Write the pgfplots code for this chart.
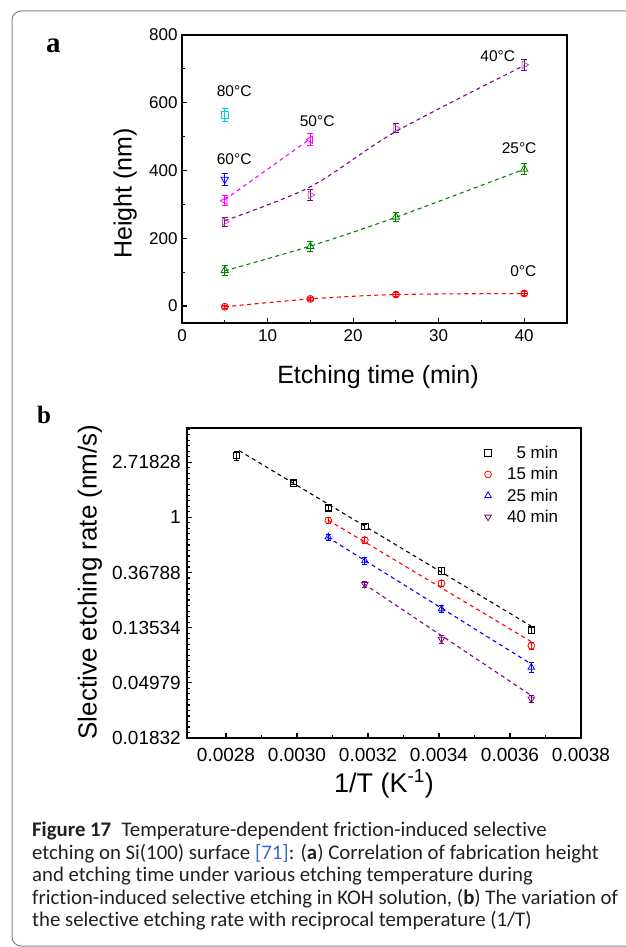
\documentclass[border=0pt]{standalone}
\usepackage{pgfplots}
\pgfplotsset{compat=1.18}
\usepackage{fontspec}
\setmainfont{Liberation Sans}
\newfontfamily\serifbf{Liberation Serif}
\newfontfamily\capfont[Ligatures=NoCommon]{Carlito}
\newcommand\tfa{\fontsize{17}{17}\selectfont}
\definecolor{cZero}{RGB}{255,0,0}
\definecolor{cTwentyFive}{RGB}{0,128,0}
\definecolor{cForty}{RGB}{128,0,128}
\definecolor{cFortyM}{RGB}{180,90,190}
\definecolor{cFifty}{RGB}{255,0,255}
\definecolor{cSixty}{RGB}{0,0,255}
\definecolor{cEighty}{RGB}{0,210,220}
\definecolor{capcol}{RGB}{35,31,32}
\definecolor{refblue}{RGB}{60,100,200}
\definecolor{frame}{RGB}{130,130,130}
\pgfplotsset{
  fitline/.style={dash pattern=on 4pt off 3.5pt, line width=1.1pt, forget plot},
  ebar/.style={error bars/.cd, y dir=both, y explicit,
     error bar style={line width=0.9pt},
     error mark options={rotate=90, mark size=3pt, line width=0.9pt}},
  ebarb/.style={error bars/.cd, y dir=both, y explicit,
     error bar style={line width=0.9pt},
     error mark options={rotate=90, mark size=2.5pt, line width=0.9pt}},
}
\begin{document}
\begin{tikzpicture}
\useasboundingbox (0pt,0pt) rectangle (625pt,-947pt);
\draw[frame, line width=1pt, rounded corners=9pt] (12pt,-11pt) rectangle (720pt,-946pt);
% panel labels
\node[anchor=base west, inner sep=0pt, font=\serifbf\bfseries\fontsize{29}{29}\selectfont] at (46pt,-53pt) {a};
\node[anchor=base west, inner sep=0pt, font=\serifbf\bfseries\fontsize{25}{25}\selectfont] at (37pt,-423pt) {b};

% ---------------- panel a ----------------
\begin{axis}[at={(182pt,-323pt)}, anchor=south west, scale only axis, width=385pt, height=288pt,
  xmin=0, xmax=45, ymin=-50, ymax=800,
  xtick={0,10,20,30,40}, minor xtick={5,15,25,35},
  xticklabels={\tfa 0,\tfa 10,\tfa 20,\tfa 30,\tfa 40},
  ytick={0,200,400,600,800}, minor ytick={100,300,500,700},
  yticklabels={\tfa 0,\tfa 200,\tfa 400,\tfa 600,\tfa 800},
  tick pos=left, tick align=inside, major tick length=5pt, minor tick length=3pt,
  every tick/.style={black, line width=1.2pt},
  axis line style={line width=1.6pt},
  xticklabel style={yshift=-3pt},
  yticklabel style={xshift=-1pt},
  clip=false]
% fit lines
\addplot[cZero, fitline, smooth] coordinates {(5,-2) (15,21) (25,34) (40,37)};
\addplot[cTwentyFive, fitline, smooth] coordinates {(5,104) (15,177) (25,262) (40,404)};
\addplot[cForty, fitline, smooth] coordinates {(5,252) (15,352) (25,515) (40,710)};
\addplot[cFifty, fitline] coordinates {(5,314) (15,494)};
% data
\addplot[only marks, cZero, mark=oplus, mark size=3.5pt, mark options={line width=0.8pt}, ebar]
  coordinates {(5,-2) +- (0,5) (15,21) +- (0,5) (25,34) +- (0,5) (40,37) +- (0,5)};
\addplot[only marks, cTwentyFive, mark=triangle, mark size=4.3pt, mark options={line width=0.8pt}, ebar]
  coordinates {(5,105) +- (0,14) (15,176) +- (0,14) (25,263) +- (0,14) (40,404) +- (0,16)};
\addplot[only marks, cForty, mark=triangle, mark size=4.3pt, mark options={rotate=-90, line width=0.8pt, cFortyM}, ebar]
  coordinates {(5,249) +- (0,14) (15,328) +- (0,16) (25,525) +- (0,14) (40,712) +- (0,16)};
\addplot[only marks, cFifty, mark=triangle, mark size=4.3pt, mark options={rotate=90, line width=0.8pt}, ebar]
  coordinates {(5,311) +- (0,14) (15,491) +- (0,18)};
\addplot[only marks, cSixty, mark=triangle, mark size=4.3pt, mark options={rotate=180, line width=0.8pt}, ebar]
  coordinates {(5,374) +- (0,17)};
\addplot[only marks, cEighty, mark=square, mark size=3.6pt, mark options={line width=0.8pt}, ebar]
  coordinates {(5,564) +- (0,19)};
% annotations
\begin{scope}[every node/.style={font=\fontsize{15.5}{15.5}\selectfont, inner sep=0pt}]
\node at (axis cs:6.1,633) {80°C};
\node at (axis cs:6.1,435) {60°C};
\node at (axis cs:15.8,547) {50°C};
\node at (axis cs:36.9,738) {40°C};
\node at (axis cs:39.4,465) {25°C};
\node at (axis cs:39.9,102) {0°C};
\end{scope}
\end{axis}
\node[anchor=base, inner sep=0pt, font=\fontsize{25}{25}\selectfont] at (378pt,-383pt) {Etching time (min)};
\node[anchor=base, rotate=90, inner sep=0pt, font=\fontsize{25}{25}\selectfont] at (131.5pt,-193.5pt) {Height (nm)};

% ---------------- panel b ----------------
\begin{axis}[at={(187pt,-738pt)}, anchor=south west, scale only axis, width=394pt, height=310pt,
  xmin=0.00269, xmax=0.0038, ymode=log, ymin=0.01832, ymax=5.05,
  xtick={0.0028,0.0030,0.0032,0.0034,0.0036,0.0038},
  xticklabel=\empty,
  minor xtick={0.0029,0.0031,0.0033,0.0035,0.0037},
  scaled x ticks=false,
  ytick={0.01832,0.04979,0.13534,0.36788,1,2.71828},
  yticklabel=\empty,
  minor ytick={0.020242,0.022371,0.024724,0.027324,0.030197,0.033373,0.036883,0.040762,0.045049,
     0.055023,0.060810,0.067206,0.074274,0.082085,0.090718,0.100259,0.110803,0.122456,
     0.149569,0.165299,0.182684,0.201897,0.223130,0.246597,0.272532,0.301194,0.332871,
     0.406570,0.449329,0.496585,0.548812,0.606531,0.670320,0.740818,0.818731,0.904837,
     1.10517,1.22140,1.34986,1.49182,1.64872,1.82212,2.01375,2.22554,2.45960,
     3.00417,3.32012,3.66930,4.05520,4.48169,4.95303},
  tick pos=left, tick align=inside, major tick length=5pt, minor tick length=3pt,
  every tick/.style={black, line width=1.2pt},
  axis line style={line width=1.6pt},
  legend image code/.code={\draw[#1] plot coordinates {(0pt,0pt)}; \path[draw=none] (-5pt,0pt) -- (17pt,0pt);},
  legend style={at={(0.955,0.955)}, anchor=north east, draw=none, fill=none,
     font=\fontsize{17}{17}\selectfont, cells={anchor=east}, row sep=3.5pt},
  clip=false]
% fit lines (straight lines in log scale)
\addplot[black, fitline] coordinates {(0.002837,3.35) (0.00366,0.139)};
\addplot[red, fitline] coordinates {(0.003088,0.95) (0.00366,0.105)};
\addplot[blue, fitline] coordinates {(0.003085,0.70) (0.00366,0.070)};
\addplot[cForty, fitline] coordinates {(0.003188,0.30) (0.00366,0.0396)};
% data
\addplot[only marks, black, mark=square, mark size=3.2pt, mark options={line width=0.8pt}, ebarb]
  coordinates {(0.00283,3.07) +- (0,0.25) (0.00299,1.87) +- (0,0.07) (0.003088,1.19) +- (0,0.06)
               (0.003191,0.845) +- (0,0.04) (0.003407,0.379) +- (0,0.025) (0.00366,0.130) +- (0,0.007)};
\addlegendentry{5 min}
\addplot[only marks, red, mark=o, mark size=3.4pt, mark options={line width=0.8pt}, ebarb]
  coordinates {(0.003088,0.947) +- (0,0.05) (0.003191,0.663) +- (0,0.035) (0.003407,0.303) +- (0,0.018) (0.00366,0.0975) +- (0,0.006)};
\addlegendentry{15 min}
\addplot[only marks, blue, mark=triangle, mark size=3.8pt, mark options={line width=0.8pt}, ebarb]
  coordinates {(0.003088,0.70) +- (0,0.04) (0.003191,0.454) +- (0,0.03) (0.003407,0.19) +- (0,0.013) (0.00366,0.066) +- (0,0.006)};
\addlegendentry{25 min}
\addplot[only marks, cForty, mark=triangle, mark size=3.8pt, mark options={rotate=180, line width=0.8pt}, ebarb]
  coordinates {(0.003191,0.297) +- (0,0.018) (0.003407,0.110) +- (0,0.008) (0.00366,0.0372) +- (0,0.0026)};
\addlegendentry{40 min}
\end{axis}
% tick labels of panel b
\begin{scope}[every node/.style={inner sep=0pt, font=\fontsize{19}{19}\selectfont}]
\node[anchor=east] at (181pt,-738pt) {0.01832};
\node[anchor=east] at (181pt,-682.8pt) {0.04979};
\node[anchor=east] at (181pt,-627.7pt) {0.13534};
\node[anchor=east] at (181pt,-572.5pt) {0.36788};
\node[anchor=east] at (181pt,-517.3pt) {1};
\node[anchor=east] at (181pt,-462.2pt) {2.71828};
\node[anchor=north] at (226pt,-748pt) {0.0028};
\node[anchor=north] at (297pt,-748pt) {0.0030};
\node[anchor=north] at (368pt,-748pt) {0.0032};
\node[anchor=north] at (439pt,-748pt) {0.0034};
\node[anchor=north] at (510pt,-748pt) {0.0036};
\node[anchor=north] at (581pt,-748pt) {0.0038};
\end{scope}
\node[anchor=base, inner sep=0pt, font=\fontsize{27}{27}\selectfont] at (384pt,-792pt) {1/T (K\textsuperscript{-1})};
\node[anchor=base, rotate=90, inner sep=0pt, font=\fontsize{26}{26}\selectfont] at (96.5pt,-582pt) {Slective etching rate (nm/s)};

% ---------------- caption ----------------
\begin{scope}[every node/.style={anchor=base west, inner sep=0pt, text=capcol, font=\capfont\fontsize{20.8}{22}\selectfont}]
\node at (32pt,-836.7pt) {\textbf{Figure 17}\hspace{0.5em}Temperature-dependent friction-induced selective};
\node at (32pt,-859.2pt) {etching on Si(100) surface {\color{refblue}[71]}: (\textbf{a}) Correlation of fabrication height};
\node at (32pt,-881.7pt) {and etching time under various etching temperature during};
\node at (32pt,-904.2pt) {friction-induced selective etching in KOH solution, (\textbf{b}) The variation of};
\node at (32pt,-926.7pt) {the selective etching rate with reciprocal temperature (1/T)};
\end{scope}
\end{tikzpicture}
\end{document}
